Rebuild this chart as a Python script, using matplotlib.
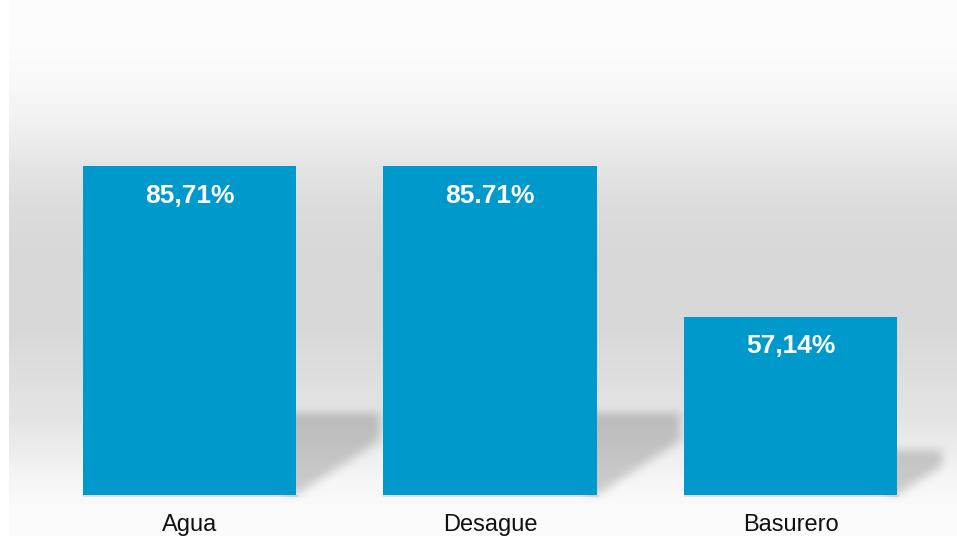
import numpy as np
import matplotlib.pyplot as plt
from matplotlib.path import Path

plt.rcParams['font.family'] = ['Liberation Sans', 'DejaVu Sans']

categorias = ['Agua', 'Desague', 'Basurero']
porcentajes = [85.71, 85.71, 57.14]
etiquetas = ['85,71%', '85.71%', '57,14%']

W, H = 957, 536
fig = plt.figure(figsize=(W / 100, H / 100), dpi=100)

# fondo con degradado vertical gris
bg = fig.add_axes([0, 0, 1, 1])
bg.set_xlim(0, W)
bg.set_ylim(H, 0)
bg.axis('off')
py = [0, 50, 80, 110, 140, 170, 210, 260, 330, 380, 420, 450, 480, 510, 536]
pg = [252, 251, 248, 243, 236, 227, 219, 215, 216, 222, 228, 236, 245, 250, 251]
grad = np.interp(np.arange(H) + 0.5, py, pg) / 255
fondo = np.repeat(grad[:, None], W, axis=1)
fondo[:, :9] = 1.0
bg.imshow(fondo, cmap='gray', vmin=0, vmax=1, extent=(0, W, H, 0),
          aspect='auto', interpolation='nearest', zorder=0)

# barras
ax = fig.add_axes([0, 41 / H, 1, 495 / H])
ax.patch.set_alpha(0)
ax.set_xlim(-0.6306, 2.554)
ax.set_ylim(23.35, 117.31)
x = np.arange(len(categorias))
barras = ax.bar(x, porcentajes, width=0.709, color='#0099cc', zorder=3)

for b, et in zip(barras, etiquetas):
    ax.annotate(et, (b.get_x() + b.get_width() / 2, b.get_height()),
                xytext=(0, -21), textcoords='offset points',
                ha='center', va='center', color='white',
                fontsize=19, fontweight='bold', zorder=4)

ax.set_xticks(x, categorias)
ax.tick_params(axis='x', length=0, pad=14, labelsize=17, labelcolor='#111111')
ax.set_yticks([])
for s in ax.spines.values():
    s.set_visible(False)


# sombras difuminadas detras de cada barra
def box_blur(a, r, axis):
    pad = [(0, 0), (0, 0)]
    pad[axis] = (r + 1, r)
    c = np.cumsum(np.pad(a, pad, mode='edge'), axis=axis)
    n = a.shape[axis]
    hi = np.take(c, np.arange(2 * r + 1, 2 * r + 1 + n), axis=axis)
    lo = np.take(c, np.arange(0, n), axis=axis)
    return (hi - lo) / (2 * r + 1)


gx, gy = np.meshgrid(np.arange(W) + 0.5, H - (np.arange(H) + 0.5))
puntos = np.column_stack([gx.ravel(), gy.ravel()])
mascara = np.zeros((H, W))
linea = np.zeros((H, W))
yb = ax.bbox.y0
for b in barras:
    L, yt = ax.transData.transform((b.get_x(), b.get_height()))
    R, _ = ax.transData.transform((b.get_x() + b.get_width(), b.get_height()))
    s = 0.25 * (yt - yb)
    w = 1.02 * s
    poli = Path([(R - 10, yb), (R - 10, yb + s), (R + w, yb + s),
                 (R + w, yb + 0.65 * w), (R, yb), (R - 10, yb)])
    mascara = np.maximum(mascara, poli.contains_points(puntos).reshape(H, W))
    franja = Path([(L, yb - 2), (L, yb), (R + 2, yb), (R + 2, yb - 2)])
    linea = np.maximum(linea, franja.contains_points(puntos).reshape(H, W))

for _ in range(3):
    mascara = box_blur(mascara, 4, 0)
    mascara = box_blur(mascara, 4, 1)

sombra = np.zeros((H, W, 4))
sombra[..., 3] = np.clip(mascara * 0.18 + linea * 0.1, 0, 1)
bg.imshow(sombra, extent=(0, W, H, 0), aspect='auto',
          interpolation='nearest', zorder=1)

fig.savefig('out.png', dpi=100)
